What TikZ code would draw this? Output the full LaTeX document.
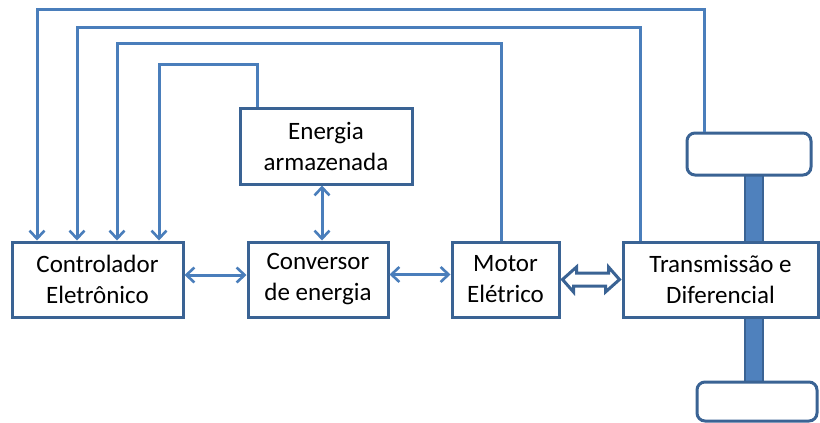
\documentclass[tikz,border=0pt]{standalone}
\usepackage{fontspec}
\setmainfont{Carlito}
\usetikzlibrary{arrows.meta,calc}
\definecolor{lineblue}{HTML}{4A7EBB}
\definecolor{boxblue}{HTML}{3A6394}
\definecolor{shaftblue}{HTML}{4F81BD}
\begin{document}
\begin{tikzpicture}[x=1pt,y=-1pt,
  blk/.style={draw=boxblue,line width=3pt,fill=white,inner sep=0pt,align=center,
    font=\fontsize{25}{31}\selectfont},
  wheel/.style={draw=boxblue,line width=3pt,fill=white,rounded corners=8pt,inner sep=0pt},
  fb/.style={draw=lineblue,line width=3pt,-{Straight Barb[length=8pt,width=15pt,line width=2.6pt]}},
  dbl/.style={draw=lineblue,line width=3pt,{Straight Barb[length=8pt,width=15pt,line width=2.6pt]}-{Straight Barb[length=8pt,width=15pt,line width=2.6pt]}},
  hollow/.style={draw=boxblue,line width=3pt,fill=white,line join=miter}]
\useasboundingbox (0,0) rectangle (820,423);
% shaft
\fill[shaftblue,draw=boxblue,line width=1.2pt] (745,172) rectangle (763,384);
\node[wheel,minimum width=124pt,minimum height=42pt] (wtop) at (749,154) {};
\node[wheel,minimum width=120pt,minimum height=39pt] (wbot) at (757,401.5) {};
\node[blk,minimum width=171pt,minimum height=75pt] (ctrl) at (97.5,279.5) {Controlador\\Eletrônico};
\node[blk,minimum width=140pt,minimum height=75pt] (conv) at (318,279.5) {Conversor\\de energia};
\node[blk,minimum width=107pt,minimum height=75pt] (motor) at (505.5,279.5) {Motor\\Elétrico};
\node[blk,minimum width=195pt,minimum height=75pt] (trans) at (720.5,279.5) {Transmissão e\\Diferencial};
\node[blk,minimum width=172pt,minimum height=76pt] (ener) at (326,146) {Energia\\armazenada};
% feedback lines
\coordinate (a1) at (37,9);   \coordinate (b1) at (704,9);
\coordinate (a2) at (77,27);  \coordinate (b2) at (640,27);
\coordinate (a3) at (117,43); \coordinate (b3) at (501,43);
\coordinate (a4) at (159,64); \coordinate (b4) at (257,64);
\draw[fb] (wtop.north -| b1) -- (b1) -- (a1) -- (ctrl.north -| a1);
\draw[fb] (trans.north -| b2) -- (b2) -- (a2) -- (ctrl.north -| a2);
\draw[fb] (motor.north -| b3) -- (b3) -- (a3) -- (ctrl.north -| a3);
\draw[fb] (ener.north -| b4) -- (b4) -- (a4) -- (ctrl.north -| a4);
% double arrows
\draw[dbl] ([xshift=-4pt]ener.south) -- ([xshift=4pt]conv.north);
\draw[dbl] ([yshift=4.5pt]ctrl.east) -- ([yshift=4.5pt]conv.west);
\draw[dbl] ([yshift=5pt]conv.east) -- ([yshift=5pt]motor.west);
% hollow arrow
\draw[hollow] ([xshift=2pt]motor.east) -- ++(14,-12.5) -- ++(0,6) -- ++(32,0) -- ++(0,-6)
  -- ([xshift=-2pt]trans.west) -- ++(-14,12.5) -- ++(0,-6) -- ++(-32,0) -- ++(0,6) -- cycle;
\end{tikzpicture}
\end{document}
